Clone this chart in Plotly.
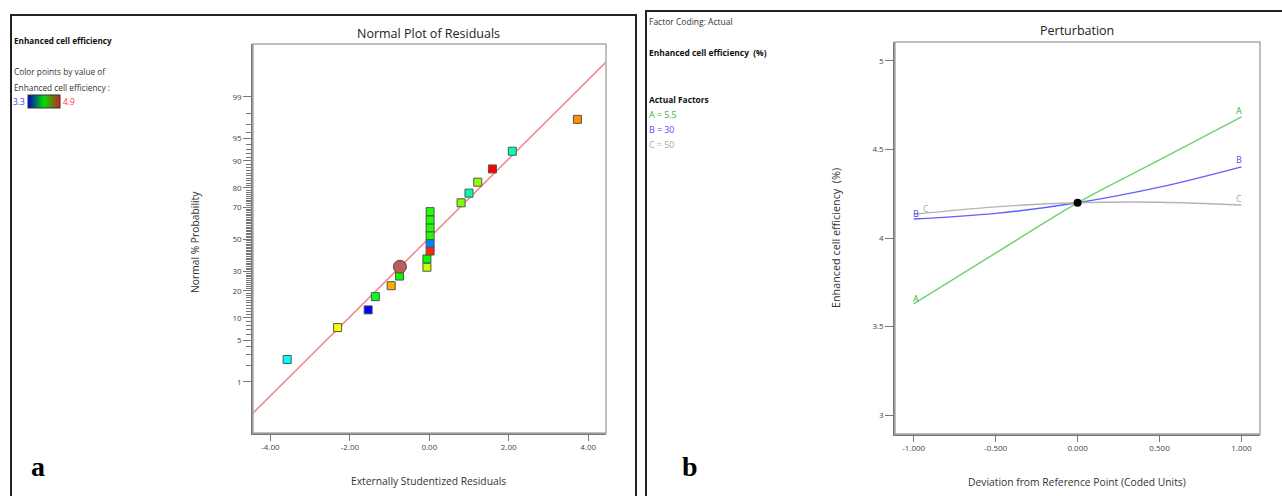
import plotly.graph_objects as go
from statistics import NormalDist

# ---------------- data ----------------
# Panel a: normal plot of residuals
resid = [-3.58, -2.31, -1.54, -1.36, -0.96, -0.75, -0.06, -0.06, 0.02, 0.02,
         0.02, 0.02, 0.02, 0.02, 0.80, 1.00, 1.22, 1.59, 2.09, 3.73]
prob = [2.5, 7.5, 12.5, 17.5, 22.5, 27.5, 32.5, 37.5, 42.5, 47.5,
        52.5, 57.5, 62.5, 67.5, 72.5, 77.5, 82.5, 87.5, 92.5, 97.5]
efficiency = [3.70, 4.50, 3.30, 4.05, 4.66, 4.10, 4.42, 4.10, 4.85, 3.50,
              4.15, 4.15, 4.15, 4.15, 4.30, 3.84, 4.34, 4.90, 3.81, 4.71]
highlight_resid = [-0.74]
highlight_prob = [32.8]
fit_resid = [-4.44, 4.45]
fit_prob = [0.228, 99.81]
prob_ticks = [1, 5, 10, 20, 30, 50, 70, 80, 90, 95, 99]
prob_minor = [2, 3, 4, 6, 7, 8, 9] + list(range(11, 90)) + [91, 92, 93, 94, 96, 97, 98]
resid_ticks = [-4, -2, 0, 2, 4]

# Panel b: perturbation
deviation = [-1.0, -0.5, 0.0, 0.5, 1.0]
curve_A = [3.628, 3.915, 4.199, 4.441, 4.684]
curve_B = [4.107, 4.139, 4.199, 4.287, 4.402]
curve_C = [4.134, 4.176, 4.199, 4.202, 4.186]
ref_point = [4.199]
eff_ticks = [3, 3.5, 4, 4.5, 5]
dev_ticks = [-1.0, -0.5, 0.0, 0.5, 1.0]

# ---------------- layout helpers ----------------
W, H = 1282, 496
def px(x):
    return x / W
def py(y):
    return 1 - y / H

nd = NormalDist()
def z(p):
    return nd.inv_cdf(p / 100.0)

FONT = "Open Sans"
TICKC = "#444444"
AXC = "#777777"

fig = go.Figure()

# fitted line
fig.add_trace(go.Scatter(x=fit_resid, y=[z(p) for p in fit_prob], mode="lines",
                         line=dict(color="#f28a8a", width=1.6), xaxis="x", yaxis="y",
                         hoverinfo="skip", showlegend=False))
# points
pt_scale = [[0, "#0000ff"], [0.25, "#00ffff"], [0.5, "#00ff00"],
            [0.75, "#ffff00"], [0.875, "#ff9900"], [1, "#ff0000"]]
fig.add_trace(go.Scatter(x=resid, y=[z(p) for p in prob], mode="markers",
                         marker=dict(symbol="square", size=8, color=efficiency,
                                     colorscale=pt_scale, cmin=3.3, cmax=4.9,
                                     line=dict(color="#555555", width=1)),
                         xaxis="x", yaxis="y", showlegend=False))
fig.add_trace(go.Scatter(x=highlight_resid, y=[z(p) for p in highlight_prob], mode="markers",
                         marker=dict(symbol="circle", size=13, color="#b85f5f",
                                     line=dict(color="#6a3a3a", width=1)),
                         xaxis="x", yaxis="y", showlegend=False))
# colour legend bar (dummy trace carrying the colourbar)
fig.add_trace(go.Scatter(x=[None], y=[None], mode="markers", xaxis="x", yaxis="y",
                         showlegend=False, hoverinfo="skip",
                         marker=dict(color=[3.3, 4.9], cmin=3.3, cmax=4.9,
                                     colorscale=[[0, "#0000c8"], [0.5, "#00e000"], [1, "#c82020"]],
                                     showscale=True,
                                     colorbar=dict(orientation="h", x=px(28), xanchor="left",
                                                   y=py(95), yanchor="top",
                                                   len=32, lenmode="pixels", thickness=13,
                                                   thicknessmode="pixels", xpad=0, ypad=0,
                                                   outlinewidth=1, outlinecolor="#333333",
                                                   showticklabels=False, ticks=""))))

# perturbation curves
fig.add_trace(go.Scatter(x=deviation, y=curve_A, mode="lines", line=dict(color="#6fd06f", width=1.4, shape="spline"),
                         xaxis="x2", yaxis="y2", showlegend=False))
fig.add_trace(go.Scatter(x=deviation, y=curve_B, mode="lines", line=dict(color="#6060ff", width=1.4, shape="spline"),
                         xaxis="x2", yaxis="y2", showlegend=False))
fig.add_trace(go.Scatter(x=deviation, y=curve_C, mode="lines", line=dict(color="#b4b4b4", width=1.4, shape="spline"),
                         xaxis="x2", yaxis="y2", showlegend=False))
fig.add_trace(go.Scatter(x=[0.0], y=ref_point, mode="markers", marker=dict(color="black", size=8),
                         xaxis="x2", yaxis="y2", showlegend=False))

tickfont = dict(family=FONT, size=8, color=TICKC)
common = dict(showgrid=False, zeroline=False, showline=True, linecolor=AXC, linewidth=1.5,
              ticks="outside", tickcolor=AXC, tickwidth=1, tickfont=tickfont)

fig.update_layout(
    width=W, height=H, autosize=False,
    margin=dict(l=0, r=0, t=0, b=0),
    paper_bgcolor="white", plot_bgcolor="white",
    font=dict(family=FONT),
    xaxis=dict(domain=[px(253), px(606)], range=[-4.44, 4.45], anchor="y",
               tickvals=resid_ticks, ticktext=[f"{v:.2f}" for v in resid_ticks],
               ticklen=6, **common),
    yaxis=dict(domain=[py(433), py(44)], range=[-3.16, 3.19], anchor="x",
               tickvals=[z(p) for p in prob_ticks], ticktext=[str(p) for p in prob_ticks],
               ticklen=8,
               minor=dict(tickvals=[z(p) for p in prob_minor], ticklen=5, tickcolor=AXC,
                          ticks="outside", showgrid=False),
               **common),
    xaxis2=dict(domain=[px(895), px(1260)], range=[-1.114, 1.113], anchor="y2",
                tickvals=dev_ticks, ticktext=[f"{v:.3f}" for v in dev_ticks],
                ticklen=6, **common),
    yaxis2=dict(domain=[py(434), py(42)], range=[2.893, 5.107], anchor="x2",
                tickvals=eff_ticks, ticklen=8, **common),
)

shapes = []
for xr, yr in (("x", "y"), ("x2", "y2")):
    shapes.append(dict(type="rect", xref=f"{xr} domain", yref=f"{yr} domain",
                       x0=0, x1=1, y0=0, y1=1, line=dict(color="#aaaaaa", width=1.5)))
# panel frames
shapes.append(dict(type="rect", xref="paper", yref="paper", x0=px(11), x1=px(636),
                   y0=-0.1, y1=py(15), line=dict(color="#222222", width=2)))
shapes.append(dict(type="rect", xref="paper", yref="paper", x0=px(646), x1=1.1,
                   y0=-0.1, y1=py(11), line=dict(color="#222222", width=2)))
fig.update_layout(shapes=shapes)

def ann(x, y, text, size=8, color="#333333", xanchor="left", angle=0, bold=False, family=FONT):
    t = f"<b>{text}</b>" if bold else text
    fig.add_annotation(x=px(x), y=py(y), xref="paper", yref="paper", text=t, showarrow=False,
                       xanchor=xanchor, yanchor="middle", textangle=angle, borderpad=0,
                       font=dict(family=family, size=size, color=color))

# panel a texts
ann(428, 33, "Normal Plot of Residuals", size=12.5, color="#222222", xanchor="center")
ann(428, 481, "Externally Studentized Residuals", size=10.3, xanchor="center")
ann(195, 242, "Normal % Probability", size=10.3, xanchor="center", angle=-90)
ann(13, 40, "Enhanced cell efficiency", size=8.2, color="#111111", bold=True)
ann(13, 71, "Color points by value of", size=8.3)
ann(13, 87, "Enhanced cell efficiency :", size=8.3)
ann(26, 101, "3.3", size=8.3, color="#3a3aff", xanchor="right")
ann(62, 101, "4.9", size=8.3, color="#ff3030")
ann(30, 466, "a", size=28, color="black", bold=True, family="Liberation Serif")

# panel b texts
ann(1077, 30, "Perturbation", size=12.5, color="#222222", xanchor="center")
ann(1077, 482, "Deviation from Reference Point (Coded Units)", size=10.3, xanchor="center")
ann(835, 238, "Enhanced cell efficiency  (%)", size=10.8, xanchor="center", angle=-90)
ann(648, 21, "Factor Coding: Actual", size=8.5)
ann(648, 53, "Enhanced cell efficiency  (%)", size=8.4, color="#111111", bold=True)
ann(648, 99, "Actual Factors", size=8.4, color="#111111", bold=True)
ann(648, 115, "A = 5.5", size=8.8, color="#3cb43c")
ann(648, 130, "B = 30", size=8.8, color="#5050ff")
ann(648, 145, "C = 50", size=8.8, color="#a8a8a8")
ann(681, 466, "b", size=28, color="black", bold=True, family="Liberation Serif")

# curve end labels
ann(916, 298, "A", size=9, color="#3cb43c", xanchor="center")
ann(1239, 110, "A", size=9, color="#3cb43c", xanchor="center")
ann(916, 213, "B", size=9, color="#5050ff", xanchor="center")
ann(1239, 159, "B", size=9, color="#5050ff", xanchor="center")
ann(926, 208, "C", size=9, color="#a8a8a8", xanchor="center")
ann(1239, 198, "C", size=9, color="#a8a8a8", xanchor="center")

fig.write_html("out.html")
